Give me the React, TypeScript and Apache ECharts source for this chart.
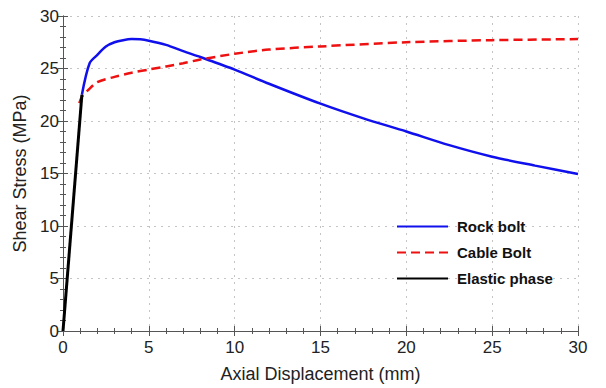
import React, { useEffect, useRef } from "react";
import * as echarts from "echarts";

const rockX = [1.1, 1.55, 2, 2.5, 3, 3.5, 4, 4.5, 5, 6, 7, 8, 9, 10, 12, 15, 17.5, 20, 22.5, 25, 27.5, 30];
const rockY = [22.5, 25.5, 26.3, 27.1, 27.5, 27.7, 27.8, 27.78, 27.65, 27.25, 26.65, 26.1, 25.5, 24.9, 23.55, 21.65, 20.25, 19.0, 17.7, 16.6, 15.75, 14.95];

const cableX = [0.95, 1.1, 1.5, 2, 3, 4, 5, 6, 7, 8, 10, 12, 15, 20, 25, 30];
const cableY = [21.7, 22.3, 23.0, 23.7, 24.2, 24.6, 24.9, 25.2, 25.5, 25.85, 26.4, 26.8, 27.1, 27.5, 27.7, 27.8];

const elasticX = [0, 1.1];
const elasticY = [0, 22.5];

const xTicks = [0, 5, 10, 15, 20, 25, 30];
const yTicks = [0, 5, 10, 15, 20, 25, 30];

const FONT = "Liberation Sans, Arial, sans-serif";

export default function App() {
  const ref = useRef<HTMLDivElement>(null);
  useEffect(() => {
    if (!ref.current) return;
    const chart = echarts.init(ref.current, undefined, { renderer: "svg" });
    const axisColor = "#555";
    const baseAxis = {
      type: "value" as const,
      min: xTicks[0],
      max: xTicks[xTicks.length - 1],
      interval: 5,
      axisLine: { show: true, lineStyle: { color: axisColor, width: 1 } },
      axisTick: { show: true, inside: true, length: 5, lineStyle: { color: axisColor } },
      minorTick: { show: true, splitNumber: 5, length: 3, lineStyle: { color: axisColor } },
    };
    const pair = (xs: number[], ys: number[]) => xs.map((x, i) => [x, ys[i]]);
    chart.setOption({
      animation: false,
      backgroundColor: "#fff",
      textStyle: { fontFamily: FONT },
      grid: { left: 63, right: 28, top: 16, bottom: 54 },
      legend: {
        orient: "vertical",
        left: 391,
        top: 214,
        itemWidth: 51,
        itemHeight: 14,
        itemGap: 11,
        itemStyle: { opacity: 0 },
        data: ["Rock bolt", "Cable Bolt", "Elastic phase"],
        textStyle: { fontFamily: FONT, fontSize: 15, fontWeight: "bold", color: "#111", padding: [0, 0, 0, 4] },
      },
      xAxis: [
        {
          ...baseAxis,
          name: "Axial Displacement (mm)",
          nameLocation: "middle",
          nameGap: 34,
          nameTextStyle: { fontFamily: FONT, fontSize: 18, color: "#222" },
          axisLabel: { fontFamily: FONT, fontSize: 17, color: "#222", margin: 8 },
          splitLine: { show: true, lineStyle: { color: "#c4c4c4", type: [2, 5], width: 1 } },
        },
        {
          ...baseAxis,
          position: "top",
          axisLabel: { show: false },
          splitLine: { show: false },
        },
      ],
      yAxis: [
        {
          ...baseAxis,
          min: yTicks[0],
          max: yTicks[yTicks.length - 1],
          name: "Shear Stress (MPa)",
          nameLocation: "middle",
          nameGap: 31,
          nameTextStyle: { fontFamily: FONT, fontSize: 18, color: "#222" },
          axisLabel: { fontFamily: FONT, fontSize: 17, color: "#222", margin: 4 },
          splitLine: { show: true, lineStyle: { color: "#c4c4c4", type: [2, 5], width: 1 } },
        },
        {
          ...baseAxis,
          min: yTicks[0],
          max: yTicks[yTicks.length - 1],
          position: "right",
          axisLabel: { show: false },
          splitLine: { show: false },
        },
      ],
      series: [
        {
          name: "Rock bolt",
          type: "line",
          data: pair(rockX, rockY),
          smooth: 0.3,
          showSymbol: false,
          symbol: "none",
          lineStyle: { color: "#1010ee", width: 2.5 },
          itemStyle: { color: "#1010ee" },
        },
        {
          name: "Cable Bolt",
          type: "line",
          data: pair(cableX, cableY),
          smooth: 0.3,
          showSymbol: false,
          symbol: "none",
          lineStyle: { color: "#ee1111", width: 2.5, type: [9, 5] },
          itemStyle: { color: "#ee1111" },
        },
        {
          name: "Elastic phase",
          type: "line",
          data: pair(elasticX, elasticY),
          showSymbol: false,
          symbol: "none",
          lineStyle: { color: "#000", width: 3 },
          itemStyle: { color: "#000" },
        },
      ],
    });
    return () => chart.dispose();
  }, []);
  return <div ref={ref} style={{ width: 606, height: 388, position: "absolute", left: 0, top: 0 }} />;
}
